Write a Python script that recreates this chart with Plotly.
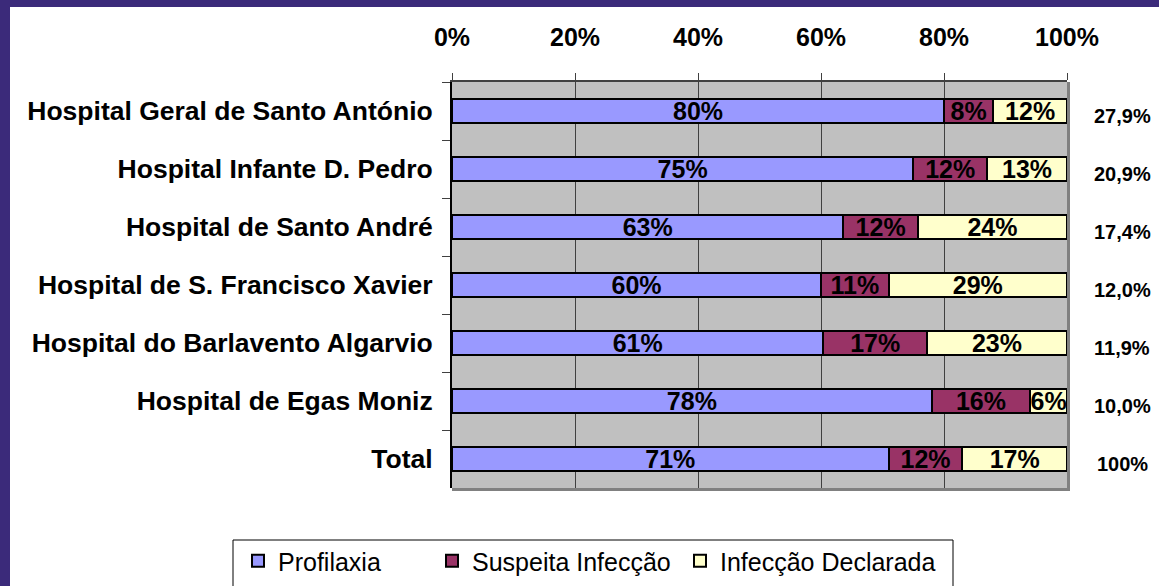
import plotly.graph_objects as go

hospitals = [
    "Hospital Geral de Santo António",
    "Hospital Infante D. Pedro",
    "Hospital de Santo André",
    "Hospital de S. Francisco Xavier",
    "Hospital do Barlavento Algarvio",
    "Hospital de Egas Moniz",
    "Total",
]
profilaxia = [80, 75, 63, 60, 61, 78, 71]
suspeita = [8, 12, 12, 11, 17, 16, 12]
declarada = [12, 13, 24, 29, 23, 6, 17]
share_labels = ["27,9%", "20,9%", "17,4%", "12,0%", "11,9%", "10,0%", "100%"]

series = [
    ("Profilaxia", profilaxia, "#9999FF"),
    ("Suspeita Infecção", suspeita, "#993366"),
    ("Infecção Declarada", declarada, "#FFFFCC"),
]

FONT = "Liberation Sans, Arial, sans-serif"
W, H = 1159, 586
L, R, T, B = 452, 1067, 82, 488


def px_x(px):
    return (px - L) / (R - L)


def px_y(py):
    return (B - py) / (B - T)


legend_names = ["legend", "legend2", "legend3"]
legend_px = [238, 432, 680]

fig = go.Figure()
for (name, vals, color), lg in zip(series, legend_names):
    fig.add_trace(go.Bar(
        y=hospitals, x=vals, name=name, orientation="h",
        marker=dict(color=color, line=dict(color="black", width=2)),
        text=[f"{v}%" for v in vals],
        textposition="inside", insidetextanchor="middle",
        constraintext="none",
        insidetextfont=dict(family=FONT, size=25, color="black", weight="bold"),
        width=0.4, legend=lg,
    ))

for h, s in zip(hospitals, share_labels):
    fig.add_annotation(
        x=px_x(1122), xref="paper", xanchor="center",
        y=h, yref="y", yanchor="middle", yshift=-5,
        text=s, showarrow=False,
        font=dict(family=FONT, size=20, color="black", weight="bold"),
    )

shapes = [
    # purple frame bands
    dict(type="rect", xref="paper", yref="paper", x0=px_x(0), x1=px_x(W),
         y0=px_y(7), y1=px_y(0), fillcolor="#3B2A7A", line=dict(width=0), layer="below"),
    dict(type="rect", xref="paper", yref="paper", x0=px_x(0), x1=px_x(10),
         y0=px_y(H), y1=px_y(0), fillcolor="#3B2A7A", line=dict(width=0), layer="below"),
    # shadow border right / bottom
    dict(type="line", xref="paper", yref="paper", x0=px_x(R + 1.5), x1=px_x(R + 1.5),
         y0=px_y(B + 3), y1=1, line=dict(color="#808080", width=3)),
    dict(type="line", xref="paper", yref="paper", x0=0, x1=px_x(R + 3),
         y0=px_y(B + 1.5), y1=px_y(B + 1.5), line=dict(color="#808080", width=3)),
    # legend box
    dict(type="rect", xref="paper", yref="paper", x0=px_x(233), x1=px_x(953),
         y0=px_y(600), y1=px_y(540), fillcolor="white",
         line=dict(color="black", width=1)),
]

legend_common = dict(
    orientation="h", xanchor="left", yanchor="top", y=px_y(538),
    borderwidth=0, bgcolor="rgba(0,0,0,0)",
    font=dict(family=FONT, size=25, color="black"),
)
legends = {}
for lg, lx in zip(legend_names, legend_px):
    legends[lg] = dict(legend_common, x=px_x(lx))

fig.update_layout(
    width=W, height=H,
    barmode="stack", barnorm="percent",
    margin=dict(l=L, r=W - R, t=T, b=H - B, autoexpand=False),
    paper_bgcolor="white", plot_bgcolor="#C0C0C0",
    font=dict(family=FONT, color="black"),
    shapes=shapes,
    showlegend=True,
    **legends,
    xaxis=dict(
        side="top", range=[0, 100], tick0=0, dtick=20, ticksuffix="%",
        showgrid=True, gridcolor="#404040", gridwidth=1,
        ticks="outside", ticklen=7, tickcolor="#404040", tickwidth=1,
        showline=True, linecolor="#404040", linewidth=2,
        zeroline=False, ticklabelstandoff=17,
        tickfont=dict(family=FONT, size=25, color="black", weight="bold"),
    ),
    yaxis=dict(
        autorange="reversed", tickson="boundaries",
        ticks="outside", ticklen=8, tickcolor="#404040",
        showgrid=False, showline=True, linecolor="black", linewidth=2,
        ticklabelstandoff=12,
        tickfont=dict(family=FONT, size=26.5, color="black", weight="bold"),
    ),
)

fig.write_html(
    "out.html",
    config={"displayModeBar": False},
    post_script="document.body.style.margin='0';",
)
